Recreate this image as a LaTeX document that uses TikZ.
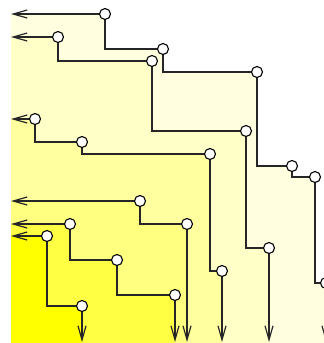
\documentclass[tikz,border=0pt]{standalone}
\usepackage{tikz}
\usetikzlibrary{arrows.meta, backgrounds}
\usepackage{xcolor}
\definecolor{bandA}{RGB}{255,255,224}
\definecolor{bandB}{RGB}{255,255,200}
\definecolor{bandC}{RGB}{255,255,160}
\definecolor{bandD}{RGB}{255,255,128}
\definecolor{bandE}{RGB}{255,255,68}
\definecolor{bandF}{RGB}{255,255,0}

\begin{document}
\begin{tikzpicture}[x=1pt, y=-1pt,
  vtx/.style={circle, draw, fill=white, line width=1.1pt, inner sep=0pt, minimum size=11pt},
  link/.style={line width=1.2pt, black!85},
  exit/.style={link, -{Straight Barb[length=14pt, width=8pt]}}]
  \useasboundingbox (0,0) rectangle (324,343);
  % front A
  \node[vtx] (a1) at (105,14) {};
  \node[vtx] (a2) at (163,49) {};
  \node[vtx] (a3) at (257,72) {};
  \node[vtx] (a4) at (292,166) {};
  \node[vtx] (a5) at (315,177) {};
  \node[vtx] (a6) at (326,283) {};
  \coordinate (a0) at (11,14);
  \coordinate (a7) at (326,342);
  % front B
  \node[vtx] (b1) at (58,37) {};
  \node[vtx] (b2) at (152,61) {};
  \node[vtx] (b3) at (246,131) {};
  \node[vtx] (b4) at (269,248) {};
  \coordinate (b0) at (11,37);
  \coordinate (b5) at (269,342);
  % front C
  \node[vtx] (c1) at (35,119) {};
  \node[vtx] (c2) at (82,142) {};
  \node[vtx] (c3) at (210,154) {};
  \node[vtx] (c4) at (222,271) {};
  \coordinate (c0) at (11,119);
  \coordinate (c5) at (222,342);
  % front D
  \node[vtx] (d1) at (140,201) {};
  \node[vtx] (d2) at (187,224) {};
  \coordinate (d0) at (11,201);
  \coordinate (d3) at (187,342);
  % front E
  \node[vtx] (e1) at (70,224) {};
  \node[vtx] (e2) at (117,260) {};
  \node[vtx] (e3) at (175,295) {};
  \coordinate (e0) at (11,224);
  \coordinate (e4) at (175,342);
  % front F
  \node[vtx] (f1) at (47,236) {};
  \node[vtx] (f2) at (82,306) {};
  \coordinate (f0) at (11,236);
  \coordinate (f3) at (82,342);
  % Steps
  \draw[link] (a1) |- (a2) |- (a3) |- (a4) |- (a5) |- (a6);
  \draw[link] (b1) |- (b2) |- (b3) |- (b4);
  \draw[link] (c1) |- (c2) |- (c3) |- (c4);
  \draw[link] (d1) |- (d2);
  \draw[link] (e1) |- (e2) |- (e3);
  \draw[link] (f1) |- (f2);
  % Ends
  \draw[exit] (a1) -- (a0);
  \draw[exit] (a6) -- (a7);
  \draw[exit] (b1) -- (b0);
  \draw[exit] (b4) -- (b5);
  \draw[exit] (c1) -- (c0);
  \draw[exit] (c4) -- (c5);
  \draw[exit] (d1) -- (d0);
  \draw[exit] (d2) -- (d3);
  \draw[exit] (e1) -- (e0);
  \draw[exit] (e3) -- (e4);
  \draw[exit] (f1) -- (f0);
  \draw[exit] (f2) -- (f3);
  % Dominated regions
  \begin{scope}[on background layer]
    \fill[bandA] (a0) -- (a1.center) |- (a2.center) |- (a3.center) |- (a4.center) |- (a5.center) |- (a6.center) |- (11,343) -- cycle;
    \fill[bandB] (b0) -- (b1.center) |- (b2.center) |- (b3.center) |- (b4.center) |- (11,343) -- cycle;
    \fill[bandC] (c0) -- (c1.center) |- (c2.center) |- (c3.center) |- (c4.center) |- (11,343) -- cycle;
    \fill[bandD] (d0) -- (d1.center) |- (d2.center) |- (11,343) -- cycle;
    \fill[bandE] (e0) -- (e1.center) |- (e2.center) |- (e3.center) |- (11,343) -- cycle;
    \fill[bandF] (f0) -- (f1.center) |- (f2.center) |- (11,343) -- cycle;
  \end{scope}
\end{tikzpicture}
\end{document}
